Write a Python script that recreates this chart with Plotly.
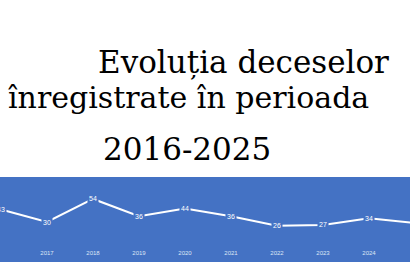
import plotly.graph_objects as go

years = [2016, 2017, 2018, 2019, 2020, 2021, 2022, 2023, 2024, 2025]
deaths = [43, 30, 54, 36, 44, 36, 26, 27, 34, 29]
title_lines = ["Evoluția deceselor", "înregistrate în perioada", "2016-2025"]

W, H = 410, 270
BLUE = "#4472C4"

fig = go.Figure()
fig.add_trace(go.Scatter(x=years, y=deaths, mode="lines",
                         line=dict(color="white", width=2), hoverinfo="skip"))

annotations = []
for yr, v in zip(years, deaths):
    annotations.append(dict(x=yr, y=v, xref="x", yref="y", text=str(v), showarrow=False,
                            bgcolor=BLUE, font=dict(family="Liberation Sans", size=7, color="white"),
                            borderpad=1))

title_style = [(96, 62, 31), (6, 97, 30), (101, 149, 31)]
for txt, (px, py, fs) in zip(title_lines, title_style):
    annotations.append(dict(x=px / W, y=1 - py / H, xref="paper", yref="paper", text=txt,
                            showarrow=False, xanchor="left", yanchor="middle",
                            font=dict(family="DejaVu Serif", size=fs, color="black")))

# pixel mapping: year 2016 at x=1, step 46 px; value 30 at y=222, 0.96 px/unit
x0 = 2016 - 1 / 46
x1 = 2016 + (W - 1) / 46
top_px, bot_px = 177, 262
y_top = 30 + (222 - top_px) / 0.96
y_bot = 30 - (bot_px - 222) / 0.96

fig.update_layout(
    width=W, height=H,
    margin=dict(l=0, r=0, t=0, b=0),
    paper_bgcolor="white", plot_bgcolor=BLUE,
    showlegend=False,
    annotations=annotations,
    xaxis=dict(range=[x0, x1], tickvals=years, ticktext=[str(y) for y in years],
               showgrid=False, zeroline=False, showline=False, ticks="",
               anchor="free", position=(H - 248) / H,
               tickfont=dict(family="Liberation Sans", size=6, color="#dde5f4")),
    yaxis=dict(range=[y_bot, y_top], domain=[(H - bot_px) / H, (H - top_px) / H],
               visible=False, showgrid=False, zeroline=False),
)

fig.write_html("out.html")
